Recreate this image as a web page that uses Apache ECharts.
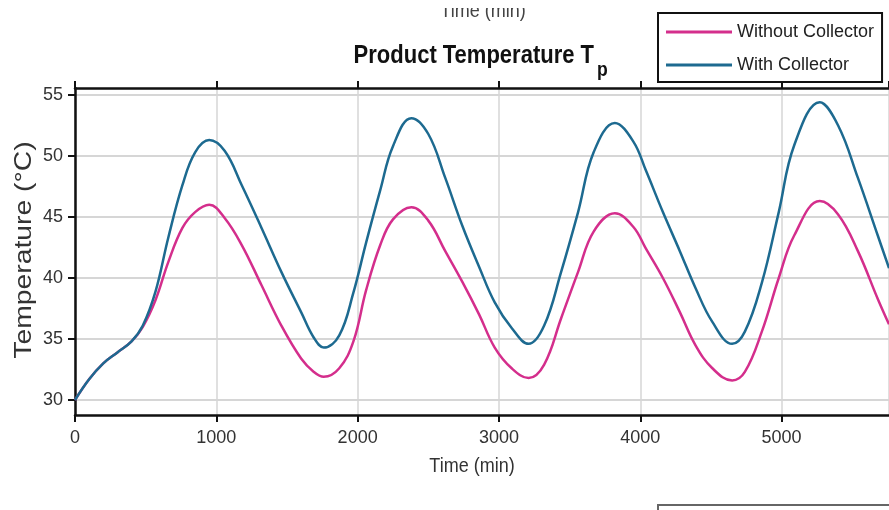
<!DOCTYPE html>
<html>
<head>
<meta charset="utf-8">
<script src="https://cdn.jsdelivr.net/npm/echarts@6/dist/echarts.min.js"></script>
<style>
  html, body { margin: 0; padding: 0; background: #fff; }
  #chart { width: 889px; height: 510px; }
</style>
</head>
<body>
<div id="chart"></div>
<script>
// time in minutes (x axis)
var times = [0, 100, 200, 300, 400, 480, 570, 660, 760, 850, 950, 1060, 1180, 1320, 1460, 1600, 1690, 1760, 1870, 1970,
  2060, 2160, 2250, 2380, 2500, 2620, 2740, 2860, 2970, 3090, 3210, 3320, 3440, 3560, 3670, 3820, 3950, 4040, 4160,
  4280, 4390, 4510, 4650, 4740, 4860, 4980, 5090, 5270, 5400, 5540, 5680, 5760]

var withoutCollector = [30.0, 31.7, 33.0, 33.9, 34.8, 36.0, 38.2, 41.3, 44.1, 45.4, 46.0, 44.9, 42.7, 39.4, 36.1, 33.4, 32.3, 31.9, 32.6, 34.8,
  39.0, 42.7, 44.8, 45.8, 44.7, 42.2, 39.7, 37.0, 34.3, 32.6, 31.8, 32.9, 36.7, 40.5, 43.8, 45.3, 44.2, 42.4, 40.0,
  37.2, 34.5, 32.6, 31.6, 32.3, 35.6, 40.0, 43.5, 46.3, 45.2, 42.2, 38.3, 36.2]

var withCollector = [30.0, 31.7, 33.0, 33.9, 34.8, 36.1, 38.9, 43.3, 47.6, 50.3, 51.3, 50.4, 47.6, 44.1, 40.5, 37.2, 35.1, 34.3, 35.3, 38.8,
  42.9, 47.2, 50.8, 53.1, 51.8, 48.2, 44.3, 40.9, 38.0, 35.9, 34.6, 36.1, 40.5, 45.4, 50.3, 52.7, 51.2, 48.8, 45.4,
  42.2, 39.2, 36.4, 34.6, 35.6, 39.6, 45.4, 50.9, 54.4, 52.5, 48.2, 43.5, 40.8]

var yTicks = [30, 35, 40, 45, 50, 55]

var sans = "'Liberation Sans', Arial, sans-serif"

function pairs(vals) {
    return times.map(function (t, i) { return [t, vals[i]] })
}

var chart = echarts.init(document.getElementById('chart'))

var xAxisBase = {
    type: 'value',
    min: 0,
    max: 5760,
    interval: 1000,
    axisLine: { lineStyle: { color: '#111', width: 2.5 } },
    axisTick: { show: true, inside: false, length: 7, lineStyle: { color: '#111', width: 2 } }
}

var option = {
    backgroundColor: '#fff',
    animation: false,
    grid: { left: 75, top: 88, right: -10, bottom: 95 },
    legend: {
        orient: 'vertical',
        left: 658,
        top: 13,
        padding: [9, 8, 7, 8],
        itemGap: 13,
        itemWidth: 66,
        itemHeight: 3,
        icon: 'rect',
        borderColor: '#111',
        borderWidth: 2,
        backgroundColor: '#fff',
        textStyle: { fontFamily: sans, fontSize: 18, color: '#222', lineHeight: 20 },
        data: ['Without Collector', 'With Collector']
    },
    xAxis: [
        Object.assign({}, xAxisBase, {
            position: 'bottom',
            axisLabel: { fontFamily: sans, fontSize: 18, color: '#333', margin: 14, showMaxLabel: false,
                formatter: function (v) { return String(v) } },
            splitLine: { show: true, lineStyle: { color: '#d6d6d6', width: 1.5 } }
        }),
        Object.assign({}, xAxisBase, {
            position: 'top',
            axisLabel: { show: false },
            splitLine: { show: false }
        })
    ],
    yAxis: {
        type: 'value',
        min: 28.77,
        max: 55.57,
        axisLine: { show: true, lineStyle: { color: '#111', width: 2.5 } },
        axisTick: { show: true, length: 7, lineStyle: { color: '#111', width: 2 }, customValues: yTicks },
        axisLabel: { fontFamily: sans, fontSize: 18, color: '#333', margin: 12, customValues: yTicks },
        splitLine: { show: true, lineStyle: { color: '#d6d6d6', width: 2 } }
    },
    graphic: [
        // cut-off axis name of the plot above
        { type: 'text', x: 483, y: 21, scaleX: 0.9, style: { text: 'Time (min)', fontFamily: sans, fontSize: 20, fill: '#444', align: 'center', verticalAlign: 'bottom' } },
        { type: 'rect', shape: { x: 400, y: 0, width: 170, height: 8 }, style: { fill: '#fff' } },
        { type: 'text', x: 594, y: 56, scaleX: 0.88, style: { text: 'Product Temperature T', fontFamily: sans, fontWeight: 'bold', fontSize: 25, fill: '#111', align: 'right', verticalAlign: 'middle' } },
        { type: 'text', x: 597, y: 70, scaleX: 0.88, style: { text: 'p', fontFamily: sans, fontWeight: 'bold', fontSize: 20, fill: '#111', align: 'left', verticalAlign: 'middle' } },
        { type: 'text', x: 472, y: 466, scaleX: 0.9, style: { text: 'Time (min)', fontFamily: sans, fontSize: 20, fill: '#333', align: 'center', verticalAlign: 'middle' } },
        { type: 'text', x: 24, y: 250, rotation: Math.PI / 2, scaleX: 1.18, style: { text: 'Temperature (°C)', fontFamily: sans, fontSize: 24, fill: '#333', align: 'center', verticalAlign: 'middle' } },
        // top edge of the next plot's legend box
        { type: 'rect', shape: { x: 658, y: 505, width: 240, height: 20 }, style: { fill: '#fff', stroke: '#666', lineWidth: 2 } }
    ],
    series: [
        {
            name: 'Without Collector',
            type: 'line',
            smooth: 0.4,
            symbol: 'none',
            data: pairs(withoutCollector),
            lineStyle: { color: '#d42e8c', width: 2.5 },
            itemStyle: { color: '#d42e8c' }
        },
        {
            name: 'With Collector',
            type: 'line',
            smooth: 0.4,
            symbol: 'none',
            data: pairs(withCollector),
            lineStyle: { color: '#1d6a90', width: 2.5 },
            itemStyle: { color: '#1d6a90' }
        }
    ]
}

chart.setOption(option)
</script>
</body>
</html>
